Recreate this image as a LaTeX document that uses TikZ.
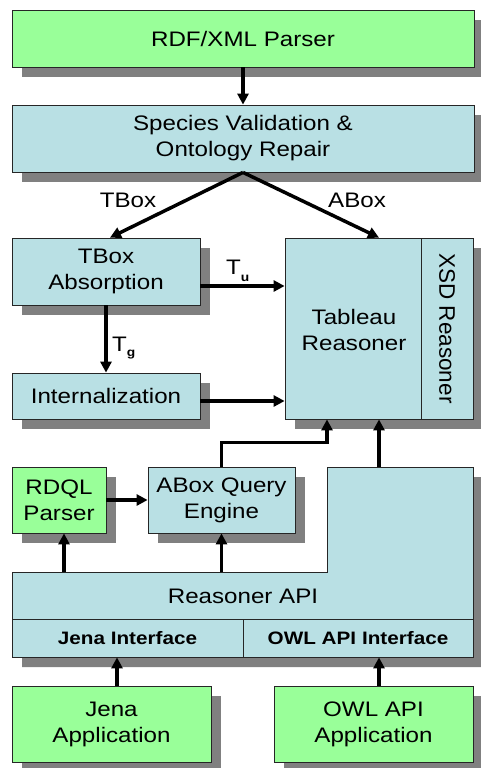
\documentclass[tikz,border=0pt]{standalone}
\usepackage{fontspec}
\setmainfont[FakeStretch=1.15]{Liberation Sans}
\newfontfamily\upfont{Liberation Sans}
\usepackage{tikz}
\usetikzlibrary{arrows.meta,shadows}
\definecolor{boxgreen}{RGB}{153,255,153}
\definecolor{boxblue}{RGB}{185,224,228}
\definecolor{shadowgray}{RGB}{128,128,128}

\begin{document}
\begin{tikzpicture}[x=1pt,y=-1pt,
    block/.style={rectangle, draw=black!85, line width=0.8pt, fill=#1,
                  drop shadow={shadow xshift=10pt, shadow yshift=-10pt, opacity=1, fill=shadowgray},
                  align=center, inner sep=1pt, font=\fontsize{21}{26}\selectfont},
    lbl/.style={font=\fontsize{21}{26}\selectfont, inner sep=0pt},
    iface/.style={rectangle, draw=black!85, line width=0.8pt, fill=boxblue,
                  inner sep=0pt, font=\fontsize{18}{20}\selectfont\bfseries},
    arrow/.style={line width=3.5pt, -{Triangle[length=11pt,width=11pt]}}
]
\useasboundingbox (0,0) rectangle (481,768);

% top of the pipeline
\node[block=boxgreen, minimum width=462pt, minimum height=57pt] (rdf) at (243,38.5) {RDF/XML Parser};
\node[block=boxblue, minimum width=462pt, minimum height=67pt] (svor) at (243,138.5) {Species Validation \&\\Ontology Repair};

% TBox side
\node[block=boxblue, minimum width=188pt, minimum height=67pt] (tbox) at (106,271.5) {TBox\\Absorption};
\node[block=boxblue, minimum width=188pt, minimum height=46pt] (intern) at (106,396) {Internalization};

% reasoner
\node[block=boxblue, minimum width=188pt, minimum height=181pt] (reas) at (379,328.5) {};
\node[lbl, align=center] (tab) at (354,330) {Tableau\\Reasoner};
\node[iface, rotate=-90, minimum width=181pt, minimum height=52pt, font=\upfont\fontsize{22.5}{26}\selectfont] (xsd) at (447,328.5) {XSD Reasoner};

% query side
\node[block=boxgreen, minimum width=94pt, minimum height=66pt] (rdql) at (59,500) {RDQL\\Parser};
\node[block=boxblue, minimum width=147pt, minimum height=66pt] (aqe) at (221.5,500) {ABox Query\\Engine};

% reasoner API (L shape)
\fill[shadowgray, shift={(10,10)}] (12,572) -- (327,572) -- (327,467) -- (473,467) -- (473,657) -- (12,657) -- cycle;
\draw[fill=boxblue, draw=black!85, line width=0.8pt] (12,572) -- (327,572) -- (327,467) -- (473,467) -- (473,657) -- (12,657) -- cycle;
\node[lbl] (api) at (243,596) {Reasoner API};
\node[iface, minimum width=231pt, minimum height=38pt] (jif) at (127.5,638) {Jena Interface};
\node[iface, minimum width=230pt, minimum height=38pt] (oif) at (358,638) {OWL API Interface};
\coordinate (apitop) at (379,467);
\coordinate (apirdql) at (64,572);
\coordinate (apiaqe) at (221.5,572);

% applications
\node[block=boxgreen, minimum width=199pt, minimum height=76pt] (japp) at (111.5,724) {Jena\\Application};
\node[block=boxgreen, minimum width=199pt, minimum height=76pt] (oapp) at (373.5,724) {OWL API\\Application};
\coordinate (jarr) at ([xshift=5.5pt]japp.north);
\coordinate (oarr) at ([xshift=5.5pt]oapp.north);

% labels
\node[lbl] (tboxlbl) at (128,200) {TBox};
\node[lbl] (aboxlbl) at (357,200) {ABox};
\node[lbl, anchor=base west] (tulbl) at (226,274) {T\raisebox{-7pt}{\fontsize{12}{12}\selectfont\bfseries u}};
\node[lbl, anchor=base west] (tglbl) at (112,351) {T\raisebox{-5pt}{\fontsize{12}{12}\selectfont\bfseries g}};

% connectors
\draw[arrow] (rdf) -- (svor);
\draw[arrow] (svor.south) -- ([xshift=4pt]tbox.north);
\draw[arrow] (svor.south) -- (reas.north);
\draw[arrow] ([yshift=-14.5pt]tbox.east) -- ([yshift=-14.5pt]tbox.east -| reas.west);
\draw[arrow] (tbox) -- (intern);
\draw[arrow] ([yshift=-5pt]intern.east) -- ([yshift=-5pt]intern.east -| reas.west);
\draw[arrow] (rdql) -- (aqe);
\draw[arrow] (aqe.north) -- ++(0,-24) -| ([xshift=-52pt]reas.south);
\draw[arrow] (apitop) -- (reas.south);
\draw[arrow] (apirdql) -- (apirdql |- rdql.south);
\draw[arrow] (apiaqe) -- (aqe.south);
\draw[arrow] (jarr) -- (jarr |- jif.south);
\draw[arrow] (oarr) -- (oarr |- oif.south);
\end{tikzpicture}
\end{document}
